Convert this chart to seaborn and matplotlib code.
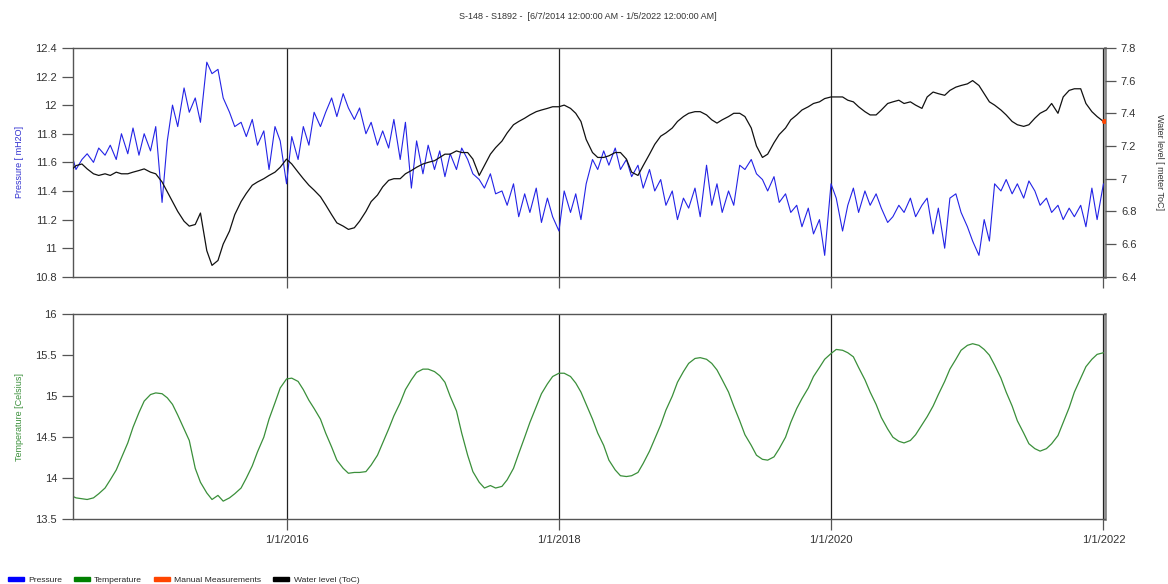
import numpy as np
import pandas as pd
import matplotlib
matplotlib.use('Agg')
import matplotlib.pyplot as plt
from matplotlib.patches import Patch
import seaborn as sns

# ---------------- values ----------------
# all series: two values per month (1st and 15th), Jun 2014 .. Jan 2022

# temperature [Celsius]
temp_c = [
    13.79, 13.76, 13.75, 13.74, 13.76, 13.81, 13.88, 13.98, 14.10, 14.25, 14.43, 14.62, 14.80, 14.94,
    15.02, 15.04, 15.03, 14.98, 14.90, 14.77, 14.60, 14.46, 14.12, 13.95, 13.82, 13.74,
    13.79, 13.72, 13.76, 13.81, 13.88, 14.00, 14.15, 14.32, 14.50, 14.72, 14.92, 15.10,
    15.21, 15.22, 15.18, 15.08, 14.95, 14.85, 14.72, 14.55, 14.38, 14.22, 14.12, 14.06,
    14.07, 14.07, 14.08, 14.16, 14.28, 14.43, 14.60, 14.76, 14.92, 15.08, 15.20, 15.29,
    15.33, 15.33, 15.30, 15.25, 15.17, 15.00, 14.82, 14.55, 14.28, 14.08, 13.95, 13.88,
    13.91, 13.88, 13.90, 13.98, 14.12, 14.30, 14.50, 14.68, 14.87, 15.03, 15.15, 15.24,
    15.28, 15.28, 15.24, 15.16, 15.05, 14.90, 14.72, 14.55, 14.40, 14.22, 14.10, 14.03,
    14.02, 14.03, 14.07, 14.18, 14.33, 14.48, 14.65, 14.83, 15.00, 15.17, 15.30, 15.40,
    15.46, 15.47, 15.45, 15.40, 15.32, 15.20, 15.05, 14.88, 14.70, 14.53, 14.40, 14.28,
    14.23, 14.22, 14.26, 14.36, 14.50, 14.68, 14.85, 14.97, 15.10, 15.24, 15.35, 15.45,
    15.52, 15.57, 15.56, 15.53, 15.48, 15.35, 15.20, 15.05, 14.90, 14.74, 14.60, 14.50,
    14.45, 14.43, 14.46, 14.53, 14.65, 14.75, 14.88, 15.02, 15.18, 15.33, 15.45, 15.56,
    15.62, 15.64, 15.62, 15.57, 15.50, 15.38, 15.22, 15.05, 14.88, 14.70, 14.55, 14.42,
    14.36, 14.33, 14.36, 14.42, 14.52, 14.68, 14.86, 15.05, 15.22, 15.36, 15.45, 15.51,
    15.53]

# water level [meter ToC]
level_m = [
    7.05, 7.08, 7.09, 7.06, 7.03, 7.02, 7.03, 7.02, 7.04, 7.03, 7.03, 7.04, 7.05, 7.06,
    7.04, 7.03, 6.98, 6.92, 6.86, 6.80, 6.74, 6.71, 6.72, 6.79, 6.56, 6.47,
    6.50, 6.60, 6.68, 6.78, 6.86, 6.91, 6.96, 6.98, 7.00, 7.02, 7.04, 7.07,
    7.12, 7.09, 7.04, 7.00, 6.96, 6.93, 6.89, 6.84, 6.78, 6.73, 6.71, 6.69,
    6.70, 6.74, 6.80, 6.86, 6.90, 6.95, 6.99, 7.00, 7.00, 7.03, 7.05, 7.07,
    7.09, 7.10, 7.11, 7.13, 7.15, 7.15, 7.17, 7.16, 7.16, 7.12, 7.02, 7.08,
    7.15, 7.19, 7.23, 7.28, 7.33, 7.35, 7.37, 7.39, 7.41, 7.42, 7.43, 7.44,
    7.44, 7.45, 7.43, 7.40, 7.35, 7.24, 7.16, 7.13, 7.13, 7.14, 7.16, 7.16,
    7.12, 7.04, 7.02, 7.08, 7.15, 7.21, 7.26, 7.28, 7.31, 7.35, 7.38, 7.40,
    7.41, 7.41, 7.39, 7.36, 7.34, 7.36, 7.38, 7.40, 7.40, 7.38, 7.31, 7.20,
    7.13, 7.15, 7.22, 7.27, 7.31, 7.36, 7.39, 7.42, 7.44, 7.46, 7.47, 7.49,
    7.50, 7.50, 7.50, 7.48, 7.47, 7.44, 7.41, 7.39, 7.39, 7.42, 7.46, 7.47,
    7.48, 7.46, 7.47, 7.45, 7.43, 7.50, 7.53, 7.52, 7.51, 7.54, 7.56, 7.57,
    7.58, 7.60, 7.57, 7.52, 7.47, 7.45, 7.42, 7.39, 7.35, 7.33, 7.32, 7.33,
    7.37, 7.40, 7.42, 7.46, 7.40, 7.50, 7.54, 7.55, 7.55, 7.46, 7.41, 7.38,
    7.35]

# pressure [mH2O]
pressure_mh2o = [
    11.68, 11.55, 11.62, 11.66, 11.60, 11.70, 11.65, 11.72, 11.62, 11.80, 11.66, 11.84, 11.65, 11.80,
    11.68, 11.85, 11.32, 11.75, 12.00, 11.85, 12.12, 11.95, 12.05, 11.88, 12.30, 12.22,
    12.25, 12.05, 11.95, 11.85, 11.88, 11.78, 11.90, 11.72, 11.82, 11.55, 11.85, 11.75,
    11.45, 11.78, 11.62, 11.85, 11.72, 11.95, 11.85, 11.95, 12.05, 11.92, 12.08, 11.98,
    11.90, 11.98, 11.80, 11.88, 11.72, 11.82, 11.70, 11.90, 11.62, 11.88, 11.42, 11.75,
    11.52, 11.72, 11.55, 11.68, 11.50, 11.66, 11.55, 11.70, 11.62, 11.52, 11.48, 11.42,
    11.52, 11.38, 11.40, 11.30, 11.45, 11.22, 11.38, 11.25, 11.42, 11.18, 11.35, 11.22,
    11.12, 11.40, 11.25, 11.38, 11.20, 11.45, 11.62, 11.55, 11.68, 11.58, 11.70, 11.55,
    11.62, 11.50, 11.58, 11.42, 11.55, 11.40, 11.48, 11.30, 11.40, 11.20, 11.35, 11.28,
    11.42, 11.22, 11.58, 11.30, 11.45, 11.25, 11.40, 11.30, 11.58, 11.55, 11.62, 11.52,
    11.48, 11.40, 11.50, 11.32, 11.38, 11.25, 11.30, 11.15, 11.28, 11.10, 11.20, 10.95,
    11.45, 11.35, 11.12, 11.30, 11.42, 11.25, 11.40, 11.30, 11.38, 11.28, 11.18, 11.22,
    11.30, 11.25, 11.35, 11.22, 11.30, 11.35, 11.10, 11.28, 11.00, 11.35, 11.38, 11.25,
    11.15, 11.05, 10.95, 11.20, 11.05, 11.45, 11.40, 11.48, 11.38, 11.45, 11.35, 11.47,
    11.40, 11.30, 11.35, 11.25, 11.30, 11.20, 11.28, 11.22, 11.30, 11.15, 11.42, 11.20,
    11.45]

manual_date = ['2022-01-03']
manual_level = [7.35]

tick_dates = ['2016-01-01', '2018-01-01', '2020-01-01', '2022-01-01']
tick_labels = ['1/1/2016', '1/1/2018', '1/1/2020', '1/1/2022']

semi_dates = pd.date_range('2014-06-01', '2022-01-01', freq='SMS')

# ---------------- style ----------------
sns.set_style('white')
plt.rcParams['font.family'] = ['Liberation Sans', 'DejaVu Sans']

c_press = '#2323e6'
c_temp = '#3a8f3a'
c_level = '#111111'
c_manual = '#ff4500'
spine_c = '#555555'

fig = plt.figure(figsize=(11.68, 5.84), dpi=100)
ax_p = fig.add_axes([0.0625, 0.526, 0.8835, 0.392])
ax_t = fig.add_axes([0.0625, 0.111, 0.8835, 0.351])
ax_w = ax_p.twinx()

sns.lineplot(x=semi_dates, y=pressure_mh2o, ax=ax_p, color=c_press, linewidth=0.8)
sns.lineplot(x=semi_dates, y=level_m, ax=ax_w, color=c_level, linewidth=0.9)
sns.scatterplot(x=pd.to_datetime(manual_date), y=manual_level, ax=ax_w,
                color=c_manual, s=12, edgecolor=c_manual, zorder=5)
sns.lineplot(x=semi_dates, y=temp_c, ax=ax_t, color=c_temp, linewidth=0.9)

xmin, xmax = pd.Timestamp('2014-06-07'), pd.Timestamp('2022-01-05')
ticks = pd.to_datetime(tick_dates)
for ax in (ax_p, ax_t, ax_w):
    ax.set_xlim(xmin, xmax)
    ax.set_xlabel('')

for ax in (ax_p, ax_t):
    ax.set_xticks(ticks)
    ax.grid(True, axis='x', color='#222222', linewidth=0.9)
    ax.grid(False, axis='y')
    for s in ax.spines.values():
        s.set_color(spine_c)
        s.set_linewidth(1.0)
    ax.spines['right'].set_color('#8a8a8a')
    ax.spines['right'].set_linewidth(2.0)
    ax.tick_params(axis='both', direction='out', length=8, width=0.9,
                   color=spine_c, labelsize=8, labelcolor='#333333',
                   left=True, bottom=True)

ax_p.set_xticklabels([])
ax_t.set_xticklabels(tick_labels)

ax_p.set_ylim(10.8, 12.4)
ax_p.set_yticks(np.arange(10.8, 12.41, 0.2))
ax_p.set_yticklabels(['%g' % round(v, 1) for v in np.arange(10.8, 12.41, 0.2)])
ax_p.set_ylabel('Pressure [ mH2O]', color='#3030d0', fontsize=6.5, labelpad=8)

ax_w.set_ylim(6.4, 7.8)
ax_w.set_yticks(np.arange(6.4, 7.81, 0.2))
ax_w.set_yticklabels(['%g' % round(v, 1) for v in np.arange(6.4, 7.81, 0.2)])
ax_w.tick_params(axis='y', direction='out', length=8, width=0.9, color=spine_c,
                 labelsize=8, labelcolor='#333333', right=True)
for s in ax_w.spines.values():
    s.set_visible(False)
ax_w.set_ylabel('Water level [ meter ToC]', color='#333333', fontsize=6.5,
                rotation=-90, labelpad=20)
ax_w.grid(False)

ax_t.set_ylim(13.5, 16)
ax_t.set_yticks([13.5, 14, 14.5, 15, 15.5, 16])
ax_t.set_yticklabels(['13.5', '14', '14.5', '15', '15.5', '16'])
ax_t.set_ylabel('Temperature [Celsius]', color=c_temp, fontsize=6.5, labelpad=8)

fig.text(0.503, 0.972, 'S-148 - S1892 -  [6/7/2014 12:00:00 AM - 1/5/2022 12:00:00 AM]',
         ha='center', va='center', fontsize=6.5, color='#333333')

handles = [Patch(color='#0000ff', label='Pressure'),
           Patch(color='#008000', label='Temperature'),
           Patch(color=c_manual, label='Manual Measurements'),
           Patch(color='#000000', label='Water level (ToC)')]
fig.legend(handles=handles, loc='lower left', bbox_to_anchor=(0.0, -0.013), ncol=4,
           frameon=False, fontsize=6.1, handlelength=1.9, handleheight=0.45,
           handletextpad=0.5, columnspacing=1.4)

fig.savefig('out.png', dpi=100)
